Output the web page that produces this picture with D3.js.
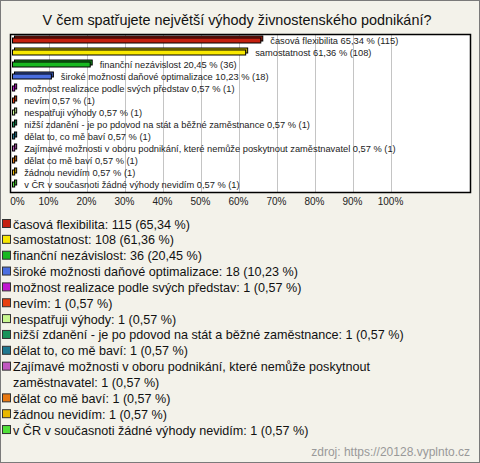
<!DOCTYPE html>
<html>
<head>
<meta charset="utf-8">
<script src="https://cdn.jsdelivr.net/npm/d3@7"></script>
<style>
  html, body { margin: 0; padding: 0; background: #f3f2ea; }
  svg { display: block; }
</style>
</head>
<body>
<div id="chart"></div>
<script>
const categories = [
    "časová flexibilita",
    "samostatnost",
    "finanční nezávislost",
    "široké možnosti daňové optimalizace",
    "možnost realizace podle svých představ",
    "nevím",
    "nespatřuji výhody",
    "nižší zdanění - je po pdovod na stát a běžné zaměstnance",
    "dělat to, co mě baví",
    "Zajímavé možnosti v oboru podnikání, které nemůže poskytnout zaměstnavatel",
    "dělat co mě baví",
    "žádnou nevidím",
    "v ČR v současnoti žádné výhody nevidím"
];
const counts = [115, 108, 36, 18, 1, 1, 1, 1, 1, 1, 1, 1, 1];
const percents = [65.34, 61.36, 20.45, 10.23, 0.57, 0.57, 0.57, 0.57, 0.57, 0.57, 0.57, 0.57, 0.57];
const colors = [
    "#c4200f", "#f8e800", "#18b820", "#4a6ee0", "#c018d0", "#e84010", "#c8f890",
    "#18935a", "#1f7890", "#c058c0", "#e87810", "#e8b800", "#50e038"
];
const tickValues = [0, 10, 20, 30, 40, 50, 60, 70, 80, 90, 100];

const width = 480, height = 463;
const fmt = function(v) { return v.toFixed(2).replace(".", ","); };

const svg = d3.select("#chart").append("svg")
    .attr("width", width)
    .attr("height", height)
    .style("font-family", "'Liberation Sans', Arial, sans-serif");

svg.append("rect")
    .attr("x", 0.5).attr("y", 0.5)
    .attr("width", width - 1).attr("height", height - 1)
    .attr("fill", "#f3f2ea")
    .attr("stroke", "#7a7a7a");

svg.append("text")
    .attr("x", 237).attr("y", 25)
    .attr("text-anchor", "middle")
    .attr("font-size", "14.4px")
    .attr("fill", "#111")
    .text("V čem spatřujete největší výhody živnostenského podnikání?");

// plot area
const box = {left: 10, top: 34, right: 470, bottom: 192};

const xScale = d3.scaleLinear().domain([0, 100]).range([11, 391]);
const yScale = d3.scaleBand().domain(categories)
    .range([box.top + 0.5, box.top + 0.5 + 12 * categories.length]);

svg.append("rect")
    .attr("x", box.left + 0.5).attr("y", box.top + 0.5)
    .attr("width", box.right - box.left).attr("height", box.bottom - box.top)
    .attr("fill", "#fff");

svg.append("g").selectAll("line")
    .data(tickValues.slice(1))
    .enter().append("line")
    .attr("x1", d => Math.round(xScale(d)) + 0.5)
    .attr("x2", d => Math.round(xScale(d)) + 0.5)
    .attr("y1", box.top)
    .attr("y2", box.bottom)
    .attr("stroke", "#c4c4c4");

// 3d bars: back face, then front face
const depth = 2, barH = 5;
const bars = svg.append("g").selectAll("g")
    .data(categories)
    .enter().append("g");

bars.append("rect")
    .attr("x", d => xScale(0) + 1.5 + depth)
    .attr("y", d => yScale(d) + 3.5 - depth)
    .attr("width", (d, i) => Math.max(xScale(percents[i]) - xScale(0), 1))
    .attr("height", barH)
    .attr("fill", (d, i) => d3.color(colors[i]).darker(0.6))
    .attr("stroke", "#000");

bars.append("rect")
    .attr("x", d => xScale(0) + 1.5)
    .attr("y", d => yScale(d) + 3.5)
    .attr("width", (d, i) => Math.max(xScale(percents[i]) - xScale(0), 1))
    .attr("height", barH)
    .attr("fill", (d, i) => colors[i])
    .attr("stroke", "#000");

bars.append("text")
    .attr("x", (d, i) => xScale(percents[i]) + 11)
    .attr("y", d => yScale(d) + 9.5)
    .attr("font-size", "9.3px")
    .attr("fill", "#222")
    .text((d, i) => `${d} ${fmt(percents[i])} % (${counts[i]})`);

svg.append("rect")
    .attr("x", box.left + 0.5).attr("y", box.top + 0.5)
    .attr("width", box.right - box.left).attr("height", box.bottom - box.top)
    .attr("fill", "none")
    .attr("stroke", "#000")
    .attr("stroke-width", 1.5);

// x axis labels
const xAxis = d3.axisBottom(xScale)
    .tickValues(tickValues)
    .tickSize(0)
    .tickPadding(0)
    .tickFormat(d => d + "%");

const axisG = svg.append("g")
    .attr("transform", `translate(0, ${box.bottom + 6})`)
    .call(xAxis);
axisG.select(".domain").remove();
axisG.selectAll("text")
    .attr("font-size", "10px")
    .attr("font-family", "'Liberation Sans', Arial, sans-serif")
    .attr("fill", "#222")
    .attr("dx", d => d === 0 ? "6px" : "-1px");

// legend
const legendTop = 224, lineH = 15.85, maxW = 435, legendFont = "12.6px";
let row = 0;
const legend = svg.append("g");
categories.forEach(function(cat, i) {
    const cy = legendTop + row * lineH;
    legend.append("rect")
        .attr("x", 2.5).attr("y", cy - 4.5)
        .attr("width", 8).attr("height", 8)
        .attr("fill", colors[i])
        .attr("stroke", "#333");

    const words = `${cat}: ${counts[i]} (${fmt(percents[i])} %)`.split(" ");
    let t = legend.append("text")
        .attr("x", 13).attr("y", cy + 4.5)
        .attr("font-size", legendFont)
        .attr("fill", "#111");
    let line = [];
    words.forEach(function(w) {
        line.push(w);
        t.text(line.join(" "));
        if (t.node().getComputedTextLength() > maxW && line.length > 1) {
            line.pop();
            t.text(line.join(" "));
            row++;
            line = [w];
            t = legend.append("text")
                .attr("x", 13).attr("y", legendTop + row * lineH + 4.5)
                .attr("font-size", legendFont)
                .attr("fill", "#111")
                .text(w);
        }
    });
    row++;
});

svg.append("text")
    .attr("x", 470).attr("y", 456)
    .attr("text-anchor", "end")
    .attr("font-size", "12px")
    .attr("fill", "#999")
    .text("zdroj: https://20128.vyplnto.cz");
</script>
</body>
</html>
